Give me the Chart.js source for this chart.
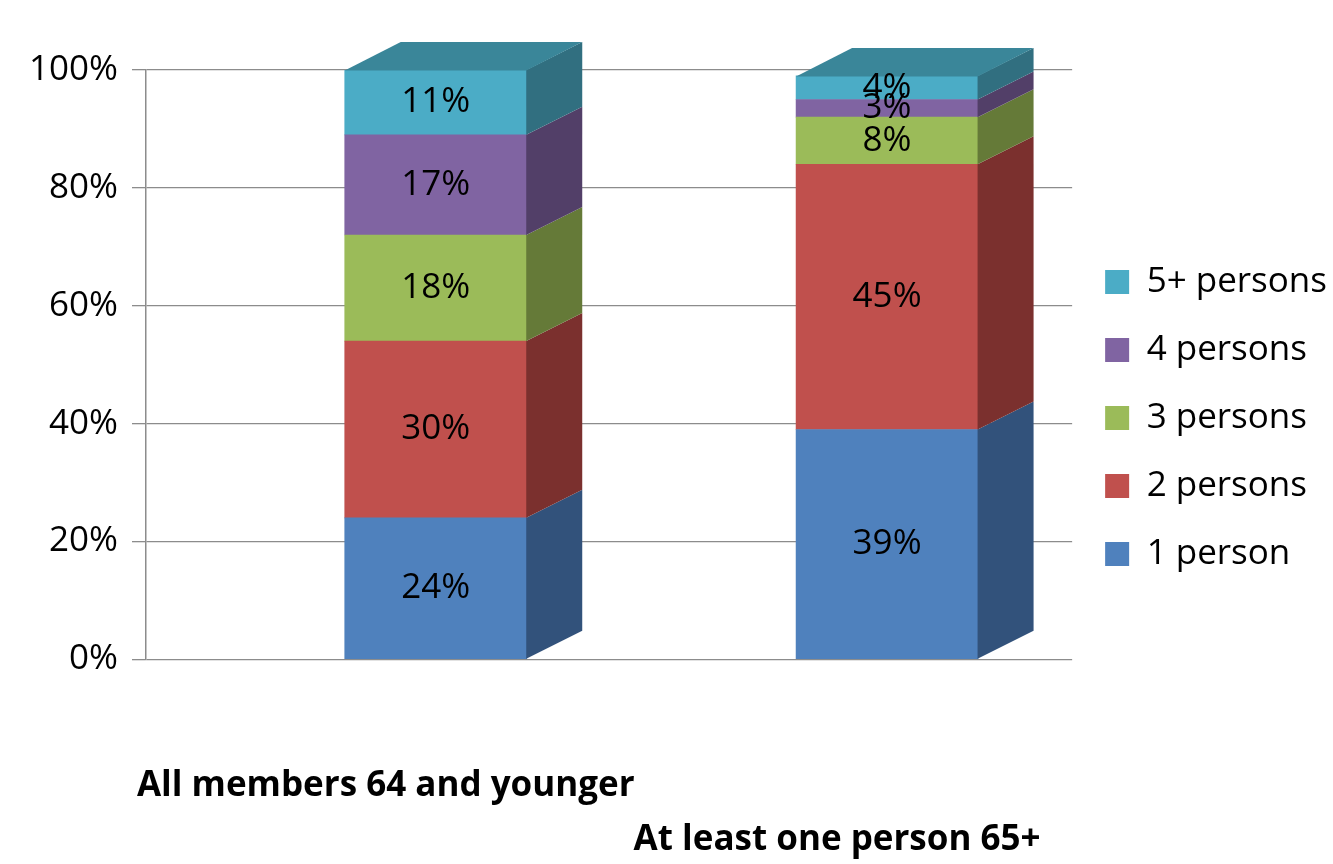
<!DOCTYPE html>
<html>
<head>
<meta charset="utf-8">
<title>Household size by age of members</title>
<script src="https://cdn.jsdelivr.net/npm/chart.js@4.4.1/dist/chart.umd.min.js"></script>
<style>
    html, body { margin: 0; padding: 0; background: #ffffff; }
    #wrap { width: 1333px; height: 864px; }
</style>
</head>
<body>
<div id="wrap"><canvas id="sizeChart" width="1333" height="864"></canvas></div>
<script>
var categories = ['All members 64 and younger', 'At least one person 65+'];
var seriesNames = ['1 person', '2 persons', '3 persons', '4 persons', '5+ persons'];
var onePerson = [24, 39];
var twoPersons = [30, 45];
var threePersons = [18, 8];
var fourPersons = [17, 3];
var fivePlus = [11, 4];
var yTicks = [0, 20, 40, 60, 80, 100];

var frontColors = ['#4F81BD', '#C0504D', '#9BBB59', '#8064A2', '#4BACC6'];
var sideColors = ['#32527B', '#7B302E', '#657A38', '#523F68', '#316F80'];
var topColor = '#3A8699';

// fake depth of the boxes
var depthX = 56;
var depthY = -28;

Chart.defaults.font.family = "'Open Sans', sans-serif";

var seriesValues = [onePerson, twoPersons, threePersons, fourPersons, fivePlus];
var datasets = seriesValues.map(function (values, i) {
    return {
        label: seriesNames[i],
        data: values.map(function (v, j) { return { x: j, y: v }; }),
        backgroundColor: frontColors[i],
        borderWidth: 0,
        barThickness: 182
    };
});

// draws the right side and top of each bar, then the value labels
var boxes3d = {
    id: 'boxes3d',
    afterDatasetsDraw: function (chart) {
        var ctx = chart.ctx;
        var last = chart.data.datasets.length - 1;
        ctx.save();
        chart.data.datasets.forEach(function (ds, i) {
            chart.getDatasetMeta(i).data.forEach(function (bar) {
                var p = bar.getProps(['x', 'y', 'base', 'width'], true);
                var left = p.x - p.width / 2;
                var right = p.x + p.width / 2 - 0.5;
                ctx.fillStyle = sideColors[i];
                ctx.beginPath();
                ctx.moveTo(right, p.y);
                ctx.lineTo(right + depthX, p.y + depthY);
                ctx.lineTo(right + depthX, p.base + depthY);
                ctx.lineTo(right, p.base);
                ctx.closePath();
                ctx.fill();
                if (i === last) {
                    ctx.fillStyle = topColor;
                    ctx.beginPath();
                    ctx.moveTo(left, p.y + 0.5);
                    ctx.lineTo(left + depthX, p.y + depthY);
                    ctx.lineTo(right + depthX, p.y + depthY);
                    ctx.lineTo(right, p.y + 0.5);
                    ctx.closePath();
                    ctx.fill();
                }
            });
        });
        ctx.fillStyle = '#000000';
        ctx.font = "35px 'Open Sans', sans-serif";
        ctx.textAlign = 'center';
        ctx.textBaseline = 'middle';
        chart.data.datasets.forEach(function (ds, i) {
            chart.getDatasetMeta(i).data.forEach(function (bar, j) {
                var p = bar.getProps(['x', 'y', 'base'], true);
                ctx.fillText(seriesValues[i][j] + '%', p.x, (p.y + p.base) / 2);
            });
        });
        ctx.restore();
    }
};

var ctx = document.getElementById('sizeChart').getContext('2d');
new Chart(ctx, {
    type: 'bar',
    data: { datasets: datasets },
    plugins: [boxes3d],
    options: {
        responsive: false,
        animation: false,
        layout: { padding: { top: 70, left: 15, right: -4, bottom: -49 } },
        plugins: {
            tooltip: { enabled: false },
            legend: {
                position: 'right',
                align: 'start',
                reverse: true,
                title: { display: true, text: '', padding: { top: 147, bottom: 0 } },
                labels: {
                    boxWidth: 24,
                    boxHeight: 24,
                    padding: 33,
                    color: '#000000',
                    font: { size: 35 }
                }
            }
        },
        scales: {
            x: {
                type: 'linear',
                stacked: true,
                offset: false,
                min: -0.642,
                max: 1.41,
                grid: { display: false, drawTicks: false },
                border: { display: false },
                afterBuildTicks: function (scale) {
                    scale.ticks = categories.map(function (c, i) { return { value: i }; });
                },
                ticks: {
                    autoSkip: false,
                    maxRotation: 0,
                    minRotation: 0,
                    padding: 46,
                    labelOffset: -50,
                    color: '#000000',
                    font: { size: 35, weight: 'bold', lineHeight: 1.54 },
                    callback: function (v) {
                        var label = categories[v];
                        if (label === undefined) return '';
                        return v % 2 ? ['', '', label] : ['', label];
                    }
                }
            },
            y: {
                stacked: true,
                min: 0,
                max: 100,
                afterBuildTicks: function (scale) {
                    scale.ticks = yTicks.map(function (v) { return { value: v }; });
                },
                grid: { color: '#8C8C8C', lineWidth: 1.3, tickLength: 14 },
                border: { color: '#8C8C8C', width: 1.5 },
                ticks: {
                    padding: 14,
                    color: '#000000',
                    font: { size: 35 },
                    callback: function (v) { return v + '%'; }
                }
            }
        }
    }
});
</script>
</body>
</html>
